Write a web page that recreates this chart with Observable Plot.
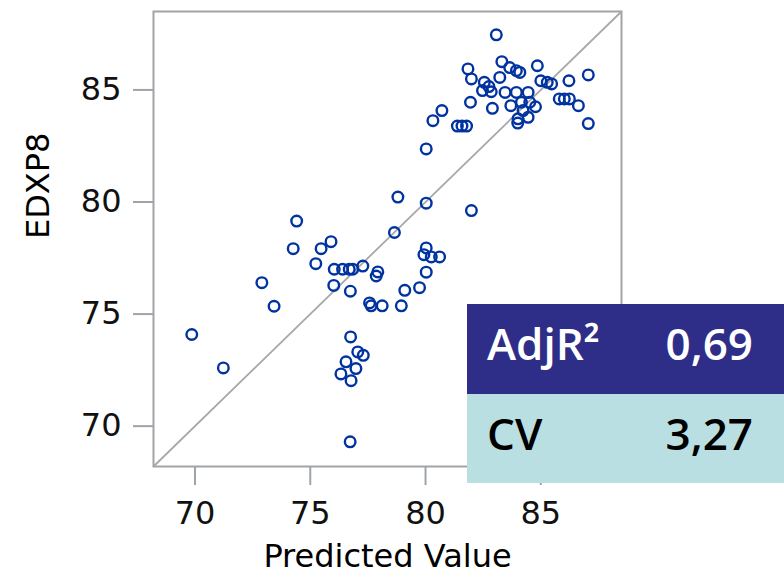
<!DOCTYPE html>
<html>
<head>
<meta charset="utf-8">
<script src="https://cdn.jsdelivr.net/npm/d3@7"></script>
<script src="https://cdn.jsdelivr.net/npm/@observablehq/plot@0.6"></script>
<style>
  html, body { margin: 0; padding: 0; background: #fff; }
  #chart { width: 784px; height: 585px; position: relative; }
</style>
</head>
<body>
<div id="chart"></div>
<script>
const predicted = [
  83.07, 81.84, 81.99, 83.31, 83.65, 83.94, 84.09, 83.22, 84.85, 82.55,
  82.75, 82.47, 82.85, 85.00, 85.28, 85.47, 86.22, 87.06, 83.45, 83.94,
  84.45, 81.95, 82.90, 83.70, 84.16, 84.52, 84.77, 84.23, 84.01, 84.45,
  84.00, 85.80, 86.02, 86.24, 86.63, 87.06, 80.71, 80.32, 81.38, 81.58,
  81.78, 80.03, 78.80, 80.03, 81.99, 74.41, 78.65, 75.90, 74.26, 75.47,
  75.24, 76.04, 76.40, 76.69, 76.84, 77.28, 77.93, 77.86, 76.02, 76.74,
  72.90, 73.43, 77.57, 77.64, 78.12, 78.95, 79.10, 79.74, 80.03, 80.03,
  79.93, 80.25, 80.61, 69.86, 71.23, 76.75, 77.06, 77.30, 76.55, 76.98,
  76.33, 76.77, 76.73
];
const edxp8 = [
  87.46, 85.94, 85.49, 86.26, 86.00, 85.86, 85.78, 85.56, 86.08, 85.34,
  85.15, 84.97, 84.92, 85.41, 85.34, 85.27, 85.41, 85.67, 84.89, 84.89,
  84.89, 84.45, 84.18, 84.30, 84.45, 84.45, 84.25, 84.08, 83.71, 83.78,
  83.52, 84.60, 84.60, 84.60, 84.30, 83.50, 84.08, 83.63, 83.39, 83.39,
  83.39, 82.37, 80.22, 79.95, 79.62, 79.15, 78.64, 78.23, 77.92, 77.92,
  77.25, 77.00, 77.00, 77.00, 77.00, 77.14, 76.88, 76.70, 76.28, 76.02,
  76.40, 75.35, 75.50, 75.37, 75.37, 75.37, 76.06, 76.18, 76.87, 77.95,
  77.65, 77.55, 77.55, 74.09, 72.60, 73.98, 73.31, 73.16, 72.87, 72.57,
  72.33, 72.03, 69.30
];
const xTicks = [70, 75, 80, 85];
const yTicks = [70, 75, 80, 85];
const xLabel = "Predicted Value";
const yLabel = "EDXP8";
const axisDomain = [68.2, 88.5];
const statLabels = ["AdjR²", "CV"];
const statValues = ["0,69", "3,27"];

const points = predicted.map((p, i) => ({predicted: p, edxp8: edxp8[i]}));
const diagonal = [{x1: axisDomain[0], y1: axisDomain[0], x2: axisDomain[1], y2: axisDomain[1]}];

const gray = "#a0a4a8";
const svg = Plot.plot({
  width: 784,
  height: 585,
  marginLeft: 153,
  marginRight: 163,
  marginTop: 11,
  marginBottom: 119,
  style: {fontFamily: "DejaVu Sans", fontSize: "32px", color: "#111", background: "#fff"},
  x: {domain: axisDomain},
  y: {domain: axisDomain},
  marks: [
    Plot.link(diagonal, {x1: "x1", y1: "y1", x2: "x2", y2: "y2", stroke: "#a8a8a8", strokeWidth: 1.8}),
    Plot.dot(points, {x: "predicted", y: "edxp8", r: 5.3, stroke: "#0033a0", strokeWidth: 2.4, fill: "none"}),
    Plot.frame({stroke: gray, strokeWidth: 2}),
    Plot.axisX({ticks: xTicks, tickSize: 19, tickPadding: 16, stroke: gray, strokeWidth: 2, fill: "#111", label: null}),
    Plot.axisY({ticks: yTicks, tickSize: 20, tickPadding: 12, stroke: gray, strokeWidth: 2, fill: "#111", label: null}),
    Plot.text([xLabel], {frameAnchor: "bottom", dy: 100, fontSize: 32, fill: "#000", text: d => d}),
    Plot.text([yLabel], {frameAnchor: "left", dx: -115, rotate: -90, fontSize: 32, fill: "#000", text: d => d})
  ]
});
document.getElementById("chart").appendChild(svg);

// Statistics table overlaid on the lower-right corner
const rowColors = ["#2e2e88", "#b9dfe2"];
const textColors = ["#ffffff", "#000000"];
const textStyle = "font-family:'Open Sans','Noto Sans',sans-serif;font-size:44px;font-weight:600;";
const g = d3.select(svg).append("g");
const rowTop = [304, 394];
const rowH = [90, 89];
statLabels.forEach((lab, i) => {
  g.append("rect").attr("x", 467).attr("y", rowTop[i]).attr("width", 317).attr("height", rowH[i]).attr("fill", rowColors[i]);
  g.append("text").attr("x", 487).attr("y", rowTop[i] + 56)
    .attr("style", textStyle + "text-anchor:start;fill:" + textColors[i]).text(lab);
  g.append("text").attr("x", 753).attr("y", rowTop[i] + 56)
    .attr("style", textStyle + "text-anchor:end;fill:" + textColors[i]).text(statValues[i]);
});
</script>
</body>
</html>
